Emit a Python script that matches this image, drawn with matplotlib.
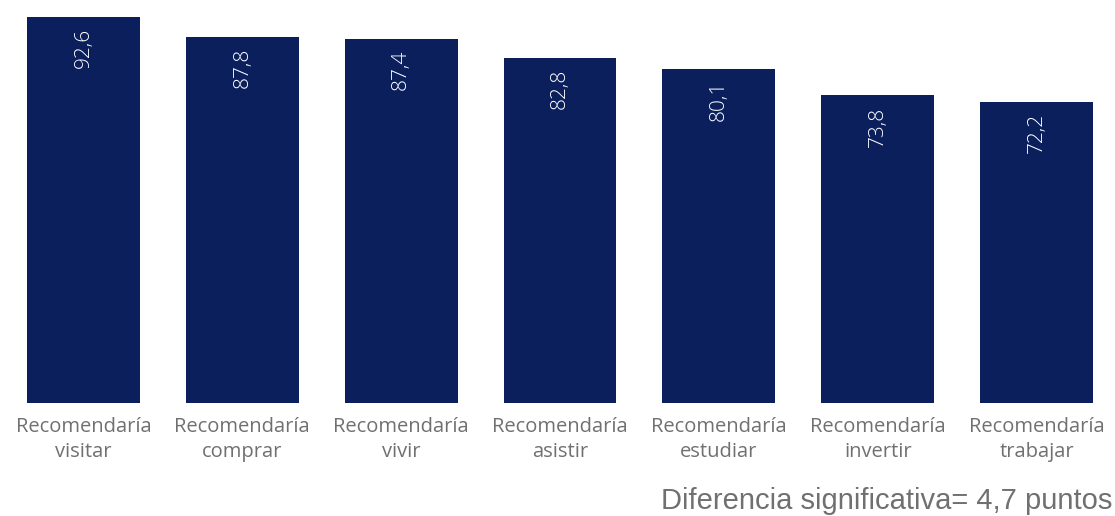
import matplotlib
matplotlib.use("Agg")
import matplotlib.pyplot as plt

# data
categorias = ["Recomendaría\nvisitar", "Recomendaría\ncomprar", "Recomendaría\nvivir",
              "Recomendaría\nasistir", "Recomendaría\nestudiar", "Recomendaría\ninvertir",
              "Recomendaría\ntrabajar"]
valores = [92.6, 87.8, 87.4, 82.8, 80.1, 73.8, 72.2]
etiquetas = ["92,6", "87,8", "87,4", "82,8", "80,1", "73,8", "72,2"]
nota = "Diferencia significativa= 4,7 puntos"

color_barra = "#0a1f5c"
gris = "#707070"

fig = plt.figure(figsize=(11.15, 5.16), dpi=100)
ax = fig.add_axes([4 / 1115, (516 - 403) / 516, 1112 / 1115, 386 / 516])

x = range(len(valores))
bars = ax.bar(x, valores, width=0.71, color=color_barra)
ax.set_xlim(-0.5, len(valores) - 0.5)
ax.set_ylim(0, 92.6)

# white rotated value labels inside the top of each bar
for b, lab in zip(bars, etiquetas):
    ax.annotate(lab, (b.get_x() + b.get_width() / 2, b.get_height()),
                xytext=(0, -8), textcoords="offset points",
                rotation=90, ha="center", va="top", color="white",
                fontsize=15, family="Open Sans", fontweight="light")

ax.set_xticks(list(x))
ax.set_xticklabels(categorias, fontsize=14.5, color=gris, family="Open Sans",
                   linespacing=1.35)
ax.tick_params(axis="x", length=0, pad=10)
ax.set_yticks([])
for s in ax.spines.values():
    s.set_visible(False)

fig.text(1112 / 1115, 1 - 501 / 516, nota, ha="right", va="center",
         fontsize=21, color=gris, family="Liberation Sans")

fig.savefig("out.png", dpi=100)
